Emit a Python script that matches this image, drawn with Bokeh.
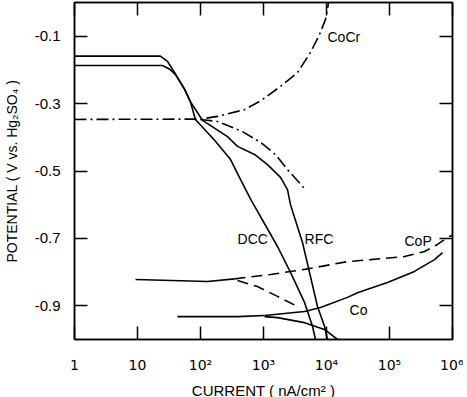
from bokeh.plotting import figure
from bokeh.models import FixedTicker, LogAxis, LinearAxis, Label
from bokeh.embed import file_html
from bokeh.resources import INLINE

# ---------------- data ----------------
x_ticks = [1, 10, 100, 1000, 10000, 100000, 1000000]
x_tick_labels = ["1", "10", "10²", "10³", "10⁴", "10⁵", "10⁶"]
y_ticks = [-0.1, -0.3, -0.5, -0.7, -0.9]
y_tick_labels = ["-0.1", "-0.3", "-0.5", "-0.7", "-0.9"]

# DCC (solid)
dcc_i = [1, 23, 30, 40, 56, 69, 83, 170, 300, 431, 630, 1668, 2683, 4478, 5995, 6687]
dcc_e = [-0.159, -0.159, -0.175, -0.212, -0.258, -0.294, -0.347, -0.410, -0.466, -0.525,
         -0.585, -0.724, -0.801, -0.890, -0.961, -1.0]

# RFC (solid)
rfc_i = [1, 25, 33, 40, 56, 69, 108, 268, 387, 720, 1157, 1862, 2404, 2683, 4159, 5373,
         7197, 9290, 10370]
rfc_e = [-0.187, -0.187, -0.199, -0.214, -0.258, -0.294, -0.350, -0.398, -0.427, -0.451,
         -0.481, -0.519, -0.555, -0.600, -0.712, -0.801, -0.902, -0.961, -1.0]

# CoCr (dash-dot), anodic and cathodic branches
cocr_i = [1, 100, 186, 500, 900, 1862, 3467, 5570, 7745, 9640, 10370, 10760]
cocr_e = [-0.347, -0.346, -0.338, -0.318, -0.292, -0.249, -0.208, -0.148, -0.095, -0.050,
          -0.020, 0.0]
cocr2_i = [100, 186, 464, 896, 1550, 2404, 4642]
cocr2_e = [-0.347, -0.353, -0.383, -0.415, -0.451, -0.496, -0.555]

# CoP (solid start, dashed branches)
cop_solid_i = [9.3, 129, 347]
cop_solid_e = [-0.822, -0.828, -0.820]
cop_up_i = [347, 1291, 4478, 21540, 49900, 173000, 359000, 578000, 834000, 1000000]
cop_up_e = [-0.820, -0.807, -0.792, -0.769, -0.763, -0.754, -0.739, -0.718, -0.697, -0.690]
cop_low_i = [387, 803, 1668, 3727]
cop_low_e = [-0.825, -0.843, -0.872, -0.905]

# Co (solid)
co_i = [43, 387, 1040]
co_e = [-0.932, -0.932, -0.929]
co_up_i = [1040, 4478, 8035, 21540, 31030, 92900, 249000, 518000, 694000]
co_up_e = [-0.929, -0.917, -0.905, -0.875, -0.861, -0.831, -0.798, -0.763, -0.742]
co_low_i = [1040, 1668, 4478, 9290, 14960]
co_low_e = [-0.932, -0.935, -0.950, -0.970, -1.0]

# curve labels
lab_text = ["CoCr", "DCC", "RFC", "CoP", "Co"]
lab_i = [10370, 387, 4478, 173000, 23200]
lab_e = [-0.102, -0.703, -0.703, -0.709, -0.911]

# ---------------- figure ----------------
FONT = "Liberation Sans"
p = figure(frame_width=378, frame_height=337, x_axis_type="log",
           x_range=(1, 1e6), y_range=(-1.0, 0.0),
           output_backend="svg", toolbar_location=None,
           min_border_left=69, min_border_right=11,
           min_border_top=2, min_border_bottom=57)
p.grid.visible = False
p.outline_line_color = "black"
p.outline_line_width = 1.5
p.background_fill_color = "white"

def style_axis(ax, ticks, labels):
    ax.axis_line_color = "black"
    ax.axis_line_width = 1.5
    ax.major_tick_in = 13
    ax.major_tick_out = 0
    ax.minor_tick_in = 0
    ax.minor_tick_out = 0
    ax.major_tick_line_width = 1.5
    ax.major_tick_line_color = "black"
    ax.major_label_overrides = {t: l for t, l in zip(ticks, labels)}
    ax.major_label_text_color = "black"

xa = p.xaxis[0]
xa.ticker = FixedTicker(ticks=x_ticks)
style_axis(xa, x_ticks, x_tick_labels)
xa.major_label_text_font = "DejaVu Sans"
xa.major_label_text_font_size = "14px"
xa.major_label_standoff = 17
xa.axis_label = "CURRENT ( nA/cm² )"
xa.axis_label_text_font = FONT
xa.axis_label_text_font_size = "15px"
xa.axis_label_text_font_style = "normal"
xa.axis_label_text_color = "black"
xa.axis_label_standoff = 6

ya = p.yaxis[0]
ya.ticker = FixedTicker(ticks=y_ticks)
style_axis(ya, y_ticks, y_tick_labels)
ya.major_label_text_font = FONT
ya.major_label_text_font_size = "15px"
ya.major_label_standoff = 14
ya.axis_label = "POTENTIAL ( V vs. Hg₂SO₄ )"
ya.axis_label_text_font = FONT
ya.axis_label_text_font_size = "14px"
ya.axis_label_text_font_style = "normal"
ya.axis_label_text_color = "black"
ya.axis_label_standoff = 12

top = LogAxis(ticker=FixedTicker(ticks=x_ticks))
style_axis(top, x_ticks, [""] * len(x_ticks))
top.major_label_standoff = 0
p.add_layout(top, "above")
right = LinearAxis(ticker=FixedTicker(ticks=y_ticks))
style_axis(right, y_ticks, [""] * len(y_ticks))
right.major_label_standoff = 0
p.add_layout(right, "right")

LW = 1.6
p.line(dcc_i, dcc_e, color="black", line_width=LW)
p.line(rfc_i, rfc_e, color="black", line_width=LW)
p.line(cocr_i, cocr_e, color="black", line_width=LW, line_dash="12 4 2 4")
p.line(cocr2_i, cocr2_e, color="black", line_width=LW, line_dash="12 4 2 4")
p.line(cop_solid_i, cop_solid_e, color="black", line_width=LW)
p.line(cop_up_i, cop_up_e, color="black", line_width=LW, line_dash="11 6")
p.line(cop_low_i, cop_low_e, color="black", line_width=LW, line_dash="11 6")
p.line(co_i, co_e, color="black", line_width=LW)
p.line(co_up_i, co_up_e, color="black", line_width=LW)
p.line(co_low_i, co_low_e, color="black", line_width=LW)

for t, xi, ye in zip(lab_text, lab_i, lab_e):
    p.add_layout(Label(x=xi, y=ye, text=t, text_font=FONT, text_font_size="14px",
                       text_baseline="middle", text_align="left", text_color="black"))

open("out.html", "w").write(file_html(p, INLINE))
